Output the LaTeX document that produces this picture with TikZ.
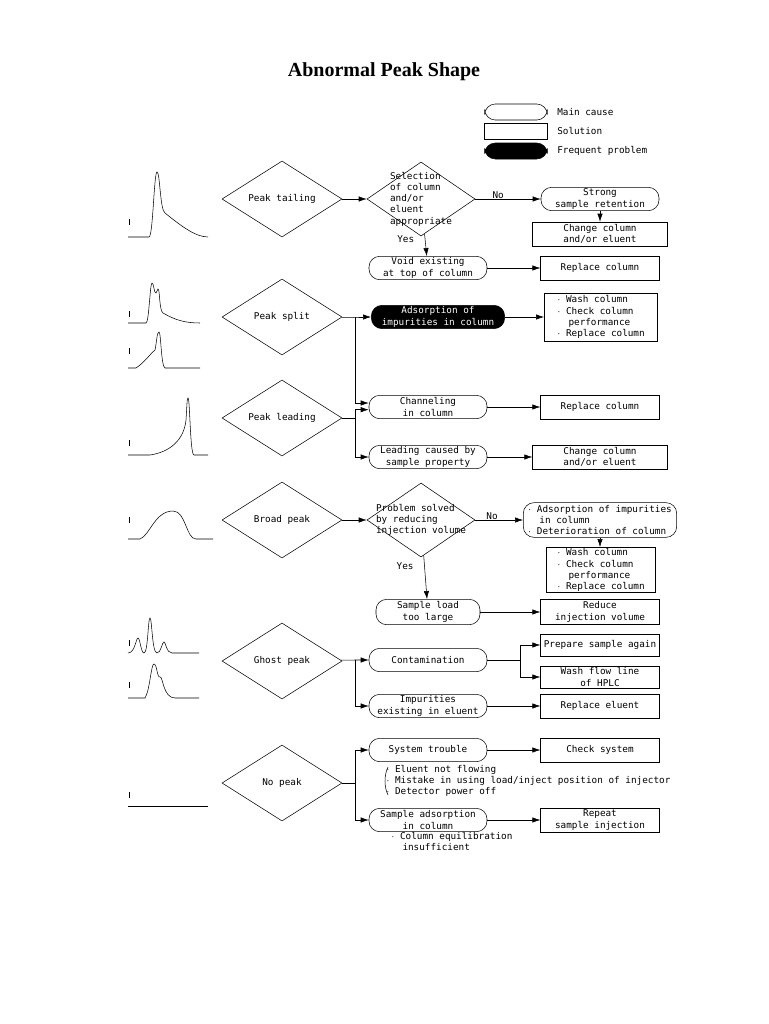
\documentclass[tikz,border=0pt]{standalone}
\usepackage{fontspec}
\setmainfont{Liberation Serif}
\newfontfamily\chartfont{DejaVu Sans Mono}
\usetikzlibrary{shapes.geometric,arrows.meta}

\tikzset{
  box/.style={draw, inner sep=1pt, font=\chartfont\fontsize{7}{8.4}\selectfont, align=center},
  cause/.style={box, rounded corners=8pt, minimum width=88.5pt, minimum height=17.5pt},
  hot/.style={cause, fill=black, text=white},
  fix/.style={box, minimum width=89pt, minimum height=18pt},
  wide/.style={fix, minimum width=101pt},
  kind/.style={draw, diamond, inner sep=0pt, aspect=1.6, minimum width=90pt, minimum height=57pt, font=\chartfont\fontsize{7}{8.4}\selectfont},
  ask/.style={draw, diamond, inner sep=0pt, minimum width=81pt, minimum height=55.5pt},
  asktext/.style={font=\chartfont\fontsize{7}{8.4}\selectfont, align=left},
  note/.style={font=\chartfont\fontsize{7}{8.4}\selectfont, align=left, inner sep=0pt},
  go/.style={-{Latex[length=6pt,width=4pt]}},
  trace/.style={thin}
}

\begin{document}
\begin{tikzpicture}[x=0.75pt,y=-0.75pt]
  \useasboundingbox (0,0) rectangle (768,1024);

  \node[font=\bfseries\fontsize{15}{18}\selectfont] (title) at (384,72) {Abnormal Peak Shape};

  % legend
  \node[cause, minimum width=47pt, minimum height=12pt] (lgcause) at (516,112) {};
  \node[note, anchor=west] (lgcauset) at (557,112) {Main cause};
  \node[fix, minimum width=47pt, minimum height=12pt] (lgfix) at (516,131) {};
  \node[note, anchor=west] (lgfixt) at (557,131) {Solution};
  \node[hot, minimum width=47pt, minimum height=12pt] (lghot) at (516,151) {};
  \node[note, anchor=west] (lghott) at (557,151) {Frequent problem};

  % chromatograms
  \draw[trace] (129,219) -- (129,225);
  \draw[trace] (128,237) -- (149,237) .. controls (153,237) and (154,172) .. (157,172)
    .. controls (160,172) and (160,210) .. (165,213) .. controls (180,225) and (195,237) .. (208,237);
  \draw[trace] (129,311) -- (129,317);
  \draw[trace] (128,323) -- (146,323) .. controls (149,323) and (150,283) .. (152,283)
    .. controls (154,283) and (154,294) .. (156,293) -- (158,289) .. controls (160,289) and (159,310) .. (163,313)
    .. controls (175,320) and (185,323) .. (200,323);
  \draw[trace] (129,348) -- (129,354);
  \draw[trace] (128,368) -- (136,368) .. controls (145,362) and (150,354) .. (155,350)
    .. controls (157,340) and (157,332) .. (159,332) .. controls (161,332) and (161,366) .. (165,368) -- (200,368);
  \draw[trace] (129,440) -- (129,446);
  \draw[trace] (128,455) -- (150,455) .. controls (170,452) and (184,440) .. (186,420)
    .. controls (187,405) and (187,398) .. (188,398) .. controls (190,398) and (190,455) .. (194,455) -- (208,455);
  \draw[trace] (129,517) -- (129,523);
  \draw[trace] (128,539) -- (140,539) .. controls (150,535) and (155,511) .. (173,511)
    .. controls (186,511) and (186,539) .. (196,539) -- (213,539);
  \draw[trace] (129,640) -- (129,646);
  \draw[trace] (128,653) .. controls (135,653) and (136,638) .. (138,638) .. controls (140,638) and (141,653) .. (144,653)
    .. controls (148,653) and (148,618) .. (150,618) .. controls (152,618) and (152,653) .. (157,653)
    .. controls (161,653) and (162,642) .. (164,642) .. controls (166,642) and (166,653) .. (172,653) -- (199,653);
  \draw[trace] (129,682) -- (129,688);
  \draw[trace] (128,698) -- (145,698) .. controls (150,690) and (151,664) .. (154,664)
    .. controls (157,664) and (157,678) .. (160,677) .. controls (163,676) and (163,698) .. (175,698) -- (199,698);
  \draw[trace] (129,792) -- (129,798);
  \draw[trace] (128,806) -- (208,806);

  % kinds of abnormal peak
  \node[kind] (tail) at (282,199) {Peak tailing};
  \node[kind] (split) at (282,317) {Peak split};
  \node[kind] (lead) at (282,418) {Peak leading};
  \node[kind] (broad) at (282,520) {Broad peak};
  \node[kind] (ghost) at (282,661) {Ghost peak};
  \node[kind] (none) at (282,783) {No peak};

  % questions
  \node[ask, label={[asktext]center:Selection\\of column\\and/or\\eluent\\appropriate}] (q1) at (421,199) {};
  \node[ask, label={[asktext]center:Problem solved\\by reducing\\injection volume}] (q2) at (421,520) {};

  % causes and solutions
  \node[cause] (retain) at (600,199) {Strong\\sample retention};
  \node[wide] (chg1) at (600,234) {Change column\\and/or eluent};
  \node[cause] (void) at (428,268) {Void existing\\at top of column};
  \node[fix] (rep1) at (600,268) {Replace column};
  \node[hot, minimum width=100pt] (adsorb) at (438,317) {Adsorption of\\impurities in column};
  \node[fix, minimum width=85pt, minimum height=36pt, align=left] (wash1) at (601,317) {$\cdot$ Wash column\\$\cdot$ Check column\\\ \ performance\\$\cdot$ Replace column};
  \node[cause] (channel) at (428,407) {Channeling\\in column};
  \node[fix] (rep2) at (600,407) {Replace column};
  \node[cause] (sample) at (428,457) {Leading caused by\\sample property};
  \node[wide] (chg2) at (600,457) {Change column\\and/or eluent};
  \node[cause, minimum width=115pt, minimum height=26pt, align=left] (deter) at (600,520) {$\cdot$ Adsorption of impurities\\\ \ in column\\$\cdot$ Deterioration of column};
  \node[fix, minimum width=82pt, minimum height=34pt, align=left] (wash2) at (601,570) {$\cdot$ Wash column\\$\cdot$ Check column\\\ \ performance\\$\cdot$ Replace column};
  \node[cause, minimum width=78pt, minimum height=19pt] (load) at (428,612) {Sample load\\too large};
  \node[fix, minimum height=19pt] (reduce) at (600,612) {Reduce\\injection volume};
  \node[cause] (contam) at (428,660) {Contamination};
  \node[fix, minimum height=16.5pt] (prep) at (600,645) {Prepare sample again};
  \node[fix, minimum height=16.5pt] (flow) at (600,677) {Wash flow line\\of HPLC};
  \node[cause] (impure) at (428,706) {Impurities\\existing in eluent};
  \node[fix] (repel) at (600,706) {Replace eluent};
  \node[cause] (system) at (428,750) {System trouble};
  \node[fix] (check) at (600,750) {Check system};
  \node[cause] (stick) at (428,820) {Sample adsorption\\in column};
  \node[fix] (repeat) at (600,820) {Repeat\\sample injection};

  \node[note, anchor=north west] (why1) at (386,765) {$\cdot$ Eluent not flowing\\$\cdot$ Mistake in using load/inject position of injector\\$\cdot$ Detector power off};
  \draw (why1.north west) ++(2,2) .. controls +(-4,8) and +(-4,-8) .. ++(0,28);
  \node[note, anchor=north west] (why2) at (391,832) {$\cdot$ Column equilibration\\\ \ insufficient};

  % connectors
  \draw[go] (tail) -- (q1);
  \draw[go] (q1) -- node[note, above, pos=.35] {No} (retain);
  \draw[go] (q1) -- node[note, left, pos=.25, xshift=-8pt] {Yes} (void);
  \draw[go] (retain) -- (chg1);
  \draw[go] (void) -- (rep1);
  \coordinate (j1) at (355,317);
  \draw[go] (split) -- (j1) -- (adsorb);
  \draw[go] (j1) |- ([yshift=3pt]channel.west);
  \coordinate (j2) at (355,418);
  \draw (lead) -- (j2);
  \draw[go] (j2) |- ([yshift=-2pt]channel.west);
  \draw[go] (j2) |- (sample);
  \draw[go] (adsorb) -- (wash1);
  \draw[go] (channel) -- (rep2);
  \draw[go] (sample) -- (chg2);
  \draw[go] (broad) -- (q2);
  \draw[go] (q2) -- node[note, above, pos=.35] {No} (deter);
  \draw[go] (deter) -- (deter |- wash2.north);
  \draw[go] (q2) -- node[note, left, pos=.25, xshift=-8pt] {Yes} (load);
  \draw[go] (load) -- (reduce);
  \coordinate (j3) at (355,660);
  \draw[go] (ghost) -- (j3) -- (contam);
  \draw[go] (j3) |- (impure);
  \coordinate (j4) at (520,660);
  \draw (contam) -- (j4);
  \draw[go] (j4) |- (prep);
  \draw[go] (j4) |- (flow);
  \draw[go] (impure) -- (repel);
  \coordinate (j5) at (355,783);
  \draw (none) -- (j5);
  \draw[go] (j5) |- (system);
  \draw[go] (j5) |- (stick);
  \draw[go] (system) -- (check);
  \draw[go] (stick) -- (repeat);
\end{tikzpicture}
\end{document}
